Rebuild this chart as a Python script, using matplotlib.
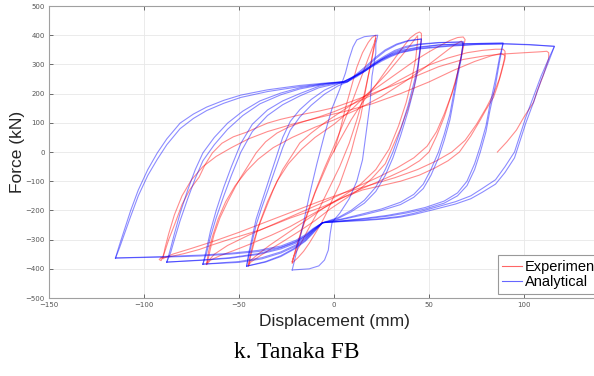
import matplotlib
matplotlib.use("Agg")
import matplotlib.pyplot as plt

# Analytical loops: rising branch from the negative peak, then falling branch back to it
ana_d1 = [-22, -20, -17, -13, -9, -5, -1, 3, 6, 8, 10, 12, 16, 23,
          22, 22, 20, 19, 17, 15, 12, 8, 3, -1, -2, -3, -5, -8, -13, -22]
ana_f1 = [-404, -350, -270, -150, -40, 60, 150, 215, 270, 320, 360, 384, 395, 400,
          370, 339, 260, 168, 70, -27, -100, -160, -210, -240, -280, -336, -370, -390, -400, -404]

ana_d2 = [-46, -45, -43, -41, -38, -35, -31, -27, -23, -18, -12, -5, 2, 7, 12, 17, 22, 27, 33, 39, 46,
          45, 44, 42, 39, 35, 31, 27, 22, 16, 9, 2, -6, -11, -15, -21, -28, -36, -46]
ana_f2 = [-391, -350, -290, -230, -170, -110, -30, 50, 105, 145, 180, 212, 233, 242, 268, 295, 325, 350, 370, 382, 387,
          340, 290, 236, 160, 75, 0, -60, -120, -165, -200, -225, -242, -275, -302, -330, -355, -375, -391]
ana_f2b = [-391, -360, -305, -250, -190, -135, -60, 15, 75, 120, 160, 198, 226, 240, 264, 290, 320, 346, 367, 380, 387,
           330, 275, 215, 140, 55, -20, -80, -135, -175, -205, -228, -243, -278, -305, -333, -358, -377, -391]

ana_d3 = [-69, -67, -65, -62, -58, -54, -49, -43, -35, -27, -18, -8, 0, 7, 12, 17, 22, 27, 32, 38, 45, 55, 68,
          67, 65, 63, 61, 58, 55, 51, 47, 42, 35, 25, 15, 5, -6, -11, -15, -20, -28, -38, -50, -69]
ana_f3 = [-384, -330, -270, -200, -120, -50, 30, 95, 144, 175, 200, 225, 235, 241, 262, 285, 310, 330, 348, 362, 370, 375, 377,
          330, 270, 200, 130, 60, 0, -60, -110, -145, -172, -195, -212, -228, -242, -270, -295, -318, -342, -362, -375, -384]
ana_f3b = [-384, -345, -290, -225, -150, -80, 0, 70, 125, 162, 192, 220, 232, 240, 258, 280, 305, 326, 344, 358, 368, 374, 377,
           320, 255, 180, 110, 40, -20, -80, -125, -155, -180, -200, -216, -230, -242, -272, -298, -322, -346, -366, -378, -384]

ana_d4 = [-88, -86, -84, -81, -77, -73, -69, -63, -56, -48, -39, -28, -18, -5, 5, 10, 15, 20, 25, 30, 35, 45, 55, 70, 89,
          87, 85, 82, 80, 77, 74, 70, 65, 58, 48, 38, 28, 15, 5, -6, -11, -15, -20, -28, -40, -55, -70, -88]
ana_f4 = [-377, -330, -280, -210, -130, -60, -3, 50, 99, 140, 175, 202, 220, 234, 240, 256, 275, 298, 318, 335, 348, 360, 367, 371, 373,
          320, 250, 160, 90, 20, -40, -100, -140, -168, -190, -205, -217, -228, -235, -242, -265, -288, -308, -328, -348, -362, -370, -377]
ana_f4b = [-377, -345, -300, -235, -160, -90, -30, 25, 78, 125, 165, 196, 216, 232, 240, 254, 272, 294, 315, 332, 345, 358, 366, 371, 373,
           305, 230, 140, 70, 0, -60, -115, -150, -175, -195, -209, -220, -230, -236, -242, -268, -292, -312, -332, -351, -364, -371, -377]

ana_d5 = [-115, -113, -110, -107, -103, -98, -93, -88, -81, -74, -67, -58, -49, -35, -18, -5, 5, 10, 15, 20, 25, 30, 35, 45, 60, 75, 90, 103, 116,
          113, 109, 105, 101, 98, 95, 90, 85, 78, 72, 64, 52, 42, 35, 25, 15, 5, -6, -11, -15, -20, -28, -40, -55, -70, -90, -115]
ana_f5 = [-363, -320, -260, -200, -130, -60, -3, 45, 99, 130, 154, 177, 195, 213, 228, 236, 241, 258, 275, 296, 315, 330, 342, 355, 364, 369, 371, 368, 362,
          320, 260, 190, 120, 60, 0, -50, -95, -125, -150, -170, -192, -210, -220, -228, -233, -237, -242, -262, -283, -302, -322, -337, -347, -353, -358, -363]
ana_f5b = [-363, -330, -275, -220, -150, -80, -25, 25, 80, 115, 142, 167, 187, 207, 224, 234, 241, 256, 272, 292, 311, 327, 340, 353, 362, 368, 370, 367, 362,
           310, 245, 170, 100, 40, -20, -70, -110, -138, -160, -178, -198, -214, -223, -230, -235, -238, -242, -265, -287, -306, -326, -341, -350, -356, -360, -363]

# Experimental loops, first cycle at each amplitude
exp_d1 = [0, 3, 6, 9, 12, 15, 18, 20, 22,
          21.5, 20, 18, 16, 14, 11, 9, 6, 3, -1, -4, -7, -10, -13, -16, -19, -22]
exp_f1 = [0, 70, 150, 220, 290, 340, 375, 392, 400,
          370, 320, 260, 190, 120, 50, 0, -55, -110, -165, -210, -248, -280, -312, -340, -362, -380]

exp_d2 = [-22, -21, -19, -16, -13, -10, -6, -2, 3, 9, 15, 22, 28, 33, 37, 40, 43, 45,
          46, 46, 45, 44, 42, 39, 35, 31, 27, 20, 14, 6, -2, -10, -18, -26, -34, -40, -44, -45]
exp_f2 = [-380, -355, -310, -250, -195, -140, -80, -20, 40, 110, 170, 230, 285, 330, 365, 390, 405, 411,
          406, 385, 330, 280, 220, 150, 80, 20, -40, -90, -125, -160, -195, -235, -270, -303, -335, -360, -378, -390]

exp_d3 = [-45, -44, -42, -40, -36, -32, -27, -22, -18, -12, -5, 3, 10, 18, 25, 35, 43, 50, 56, 61, 65, 68,
          69, 68, 66, 64, 61, 58, 54, 50, 45, 38, 30, 22, 13, 4, -5, -14, -23, -33, -44, -53, -60, -65, -67]
exp_f3 = [-390, -360, -310, -260, -195, -130, -60, -10, 31, 65, 100, 135, 165, 200, 232, 278, 315, 343, 365, 382, 392, 394,
          385, 355, 300, 240, 180, 120, 55, 0, -30, -58, -82, -105, -130, -158, -190, -222, -255, -285, -315, -338, -355, -370, -385]

exp_d4 = [-67, -66, -65, -63, -60, -56, -52, -49, -45, -41, -36, -30, -24, -18, -8, 0, 10, 20, 28, 35, 42, 50, 60, 70, 78, 85, 89,
          90, 90, 88, 86, 84, 80, 77, 72, 66, 60, 53, 45, 35, 25, 15, 5, -6, -15, -23, -31, -39, -48, -56, -64, -71, -79, -86, -91]
exp_f4 = [-385, -360, -330, -280, -225, -170, -120, -86, -45, -3, 35, 65, 85, 100, 120, 138, 165, 195, 222, 248, 272, 298, 322, 340, 348, 352, 352,
          345, 320, 270, 225, 188, 145, 110, 55, 0, -30, -55, -79, -100, -115, -130, -155, -188, -208, -226, -247, -267, -285, -301, -318, -334, -348, -358, -362]

exp_d5 = [-91, -92, -91, -89, -87, -84, -80, -76, -71, -68, -64, -59, -53, -46, -40, -35, -28, -18, -8, 0, 10, 20, 28, 35, 45, 55, 68, 80, 90, 100, 108, 112,
          113, 113, 112, 110, 107, 105, 100, 96, 91, 86]
exp_f5 = [-362, -368, -372, -340, -300, -250, -180, -130, -86, -45, -3, 30, 52, 68, 85, 99, 112, 127, 140, 152, 175, 200, 220, 238, 265, 292, 317, 330, 336, 340, 343, 345,
          340, 320, 300, 260, 210, 170, 120, 75, 35, 0]

# Experimental repeat cycles (slightly weaker)
exp2_d1 = [-22, -20, -17, -13, -9, -5, 0, 5, 10, 14, 18, 21, 22,
           21, 19, 16, 12, 8, 3, -3, -9, -14, -18, -21, -22]
exp2_f1 = [-375, -330, -265, -190, -120, -55, 20, 100, 180, 250, 320, 370, 390,
           360, 290, 200, 110, 30, -50, -130, -210, -270, -320, -355, -375]

exp2_d2 = [-45, -44, -42, -39, -35, -30, -24, -17, -10, 0, 10, 20, 28, 35, 40, 43, 44,
           44, 43, 41, 38, 34, 29, 22, 14, 5, -5, -15, -25, -34, -40, -44, -45]
exp2_f2 = [-385, -350, -300, -240, -170, -100, -40, 10, 50, 95, 150, 215, 270, 325, 365, 390, 398,
           380, 320, 250, 170, 90, 10, -60, -110, -150, -190, -235, -280, -320, -350, -372, -385]

exp2_d3 = [-67, -66, -64, -61, -57, -52, -46, -40, -32, -22, -10, 0, 12, 25, 37, 48, 57, 63, 67,
           68, 67, 65, 62, 58, 54, 49, 42, 33, 22, 10, -3, -17, -31, -45, -56, -63, -67]
exp2_f3 = [-380, -340, -290, -230, -170, -115, -65, -25, 15, 50, 85, 110, 145, 190, 240, 290, 335, 365, 380,
           370, 330, 270, 200, 130, 70, 20, -20, -55, -90, -125, -165, -205, -245, -285, -320, -350, -380]

exp2_d4 = [-90, -89, -87, -84, -80, -75, -69, -62, -54, -45, -35, -22, -8, 5, 20, 35, 50, 63, 74, 83, 88,
           90, 89, 87, 84, 80, 75, 69, 62, 54, 44, 32, 18, 5, -8, -22, -36, -50, -63, -75, -85, -90]
exp2_f4 = [-365, -330, -280, -215, -150, -95, -50, -15, 15, 45, 70, 95, 118, 138, 165, 200, 240, 280, 310, 330, 338,
           330, 300, 250, 200, 150, 95, 40, 0, -30, -60, -88, -115, -140, -170, -205, -240, -275, -305, -330, -350, -365]

x_ticks = [-150, -100, -50, 0, 50, 100]
y_ticks = [-500, -400, -300, -200, -100, 0, 100, 200, 300, 400, 500]

exp_loops = [(exp_d1, exp_f1), (exp2_d1, exp2_f1), (exp_d2, exp_f2), (exp2_d2, exp2_f2),
             (exp_d3, exp_f3), (exp2_d3, exp2_f3), (exp_d4, exp_f4), (exp2_d4, exp2_f4), (exp_d5, exp_f5)]
ana_loops = [(ana_d1, ana_f1), (ana_d2, ana_f2), (ana_d2, ana_f2b), (ana_d3, ana_f3), (ana_d3, ana_f3b),
             (ana_d4, ana_f4), (ana_d4, ana_f4b), (ana_d5, ana_f5), (ana_d5, ana_f5b)]

fig = plt.figure(figsize=(5.94, 3.76), dpi=100)
# the right part of the axes falls outside the picture, as in the original
ax = fig.add_axes([0.0825, 0.2074, 0.9596, 0.7766])

for i, (d, f) in enumerate(exp_loops):
    ax.plot(d, f, color='#ff0000', lw=0.8, alpha=0.45, label='Experimental' if i == 0 else None)
for i, (d, f) in enumerate(ana_loops):
    ax.plot(d, f, color='#0000ff', lw=0.8, alpha=0.45, label='Analytical' if i == 0 else None)

ax.set_xlim(-150, 150)
ax.set_ylim(-500, 500)
ax.set_xticks(x_ticks)
ax.set_yticks(y_ticks)
ax.tick_params(direction='in', length=3, width=0.6, top=True, right=True,
               labelsize=5, colors='#555555', pad=3)
ax.grid(True, color='#e8e8e8', lw=0.6)
for s in ax.spines.values():
    s.set_color('#a0a0a0')
    s.set_linewidth(0.8)

ax.set_xlabel('Displacement (mm)', fontsize=12.5, family='Liberation Sans', color='#262626')
ax.set_ylabel('Force (kN)', fontsize=12.5, family='Liberation Sans', color='#262626')
ax.xaxis.set_label_coords(0.5, -0.056)
ax.yaxis.set_label_coords(-0.042, 0.5)

leg = ax.legend(loc='lower right', bbox_to_anchor=(1.0, 0.0), borderaxespad=0.3,
                fancybox=False, framealpha=1, edgecolor='#999999',
                handlelength=1.4, handletextpad=0.15, borderpad=0.3, labelspacing=0.1,
                prop={'family': 'Liberation Sans', 'size': 10.5})
leg.get_frame().set_linewidth(0.8)
for h in leg.get_lines():
    h.set_alpha(0.6)

fig.text(0.5, 1 - 353 / 376, 'k. Tanaka FB', ha='center', va='center',
         family='Liberation Serif', fontsize=17)

fig.savefig('out.png', dpi=100)
